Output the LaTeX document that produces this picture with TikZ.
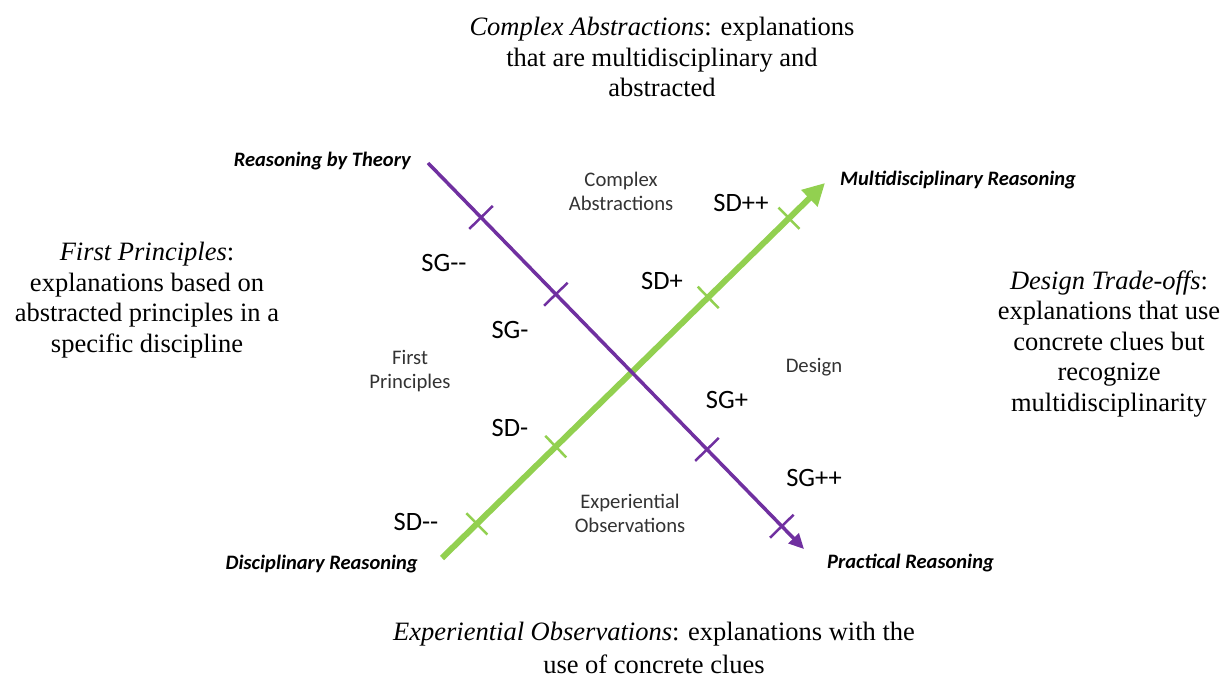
\documentclass[tikz,border=0pt]{standalone}
\usepackage{fontspec}
\setmainfont{Liberation Serif}
\newfontfamily\calibri{Carlito}
\usetikzlibrary{arrows.meta, positioning, calc}
\definecolor{theorypurple}{HTML}{7030A0}
\definecolor{designgreen}{HTML}{92D050}

\begin{document}
\begin{tikzpicture}[x=1pt, y=-1pt,
  pole/.style={font=\calibri\bfseries\itshape\fontsize{20.5}{24}\selectfont, inner sep=0pt},
  level/.style={font=\calibri\fontsize{26.5}{30}\selectfont, inner sep=0pt},
  zone/.style={font=\calibri\fontsize{20.7}{24}\selectfont, align=center, inner sep=0pt, text=black!80},
  note/.style={font=\fontsize{26.5}{30.5}\selectfont, align=center, inner sep=0pt},
  sgaxis/.style={draw=theorypurple, line width=3.5pt, -{Triangle[length=15pt,width=14pt]}},
  sdaxis/.style={draw=designgreen, line width=6pt, -{Triangle[length=22pt,width=22pt]}},
  sgtick/.style={draw=theorypurple, line width=2.5pt},
  sdtick/.style={draw=designgreen, line width=2.5pt}
]
  \useasboundingbox (0,0) rectangle (1225,679);

  % axis ends
  \coordinate (theory) at (428,163);
  \coordinate (practical) at (804,549);
  \coordinate (disc) at (442,558);
  \coordinate (multi) at (825,183);

  % green axis first, purple on top
  \draw[sdaxis] (disc) -- (multi);
  \draw[sgaxis] (theory) -- (practical);

  \foreach \t in {0.091,0.297,0.695,0.906}
    \draw[sdtick] ($(disc)!\t!(multi)!15pt!90:(multi)$) -- ($(disc)!\t!(multi)!15pt!-90:(multi)$);
  \foreach \t in {0.141,0.34,0.742,0.941}
    \draw[sgtick] ($(theory)!\t!(practical)!16.5pt!90:(practical)$) -- ($(theory)!\t!(practical)!16.5pt!-90:(practical)$);

  % pole labels
  \node[pole, left=17pt of theory, yshift=2pt] (theorylbl) {Reasoning by Theory};
  \node[pole, right=15pt of multi, yshift=3pt] (multilbl) {Multidisciplinary Reasoning};
  \node[pole, left=24pt of disc, yshift=-6pt] (disclbl) {Disciplinary Reasoning};
  \node[pole, right=23pt of practical, yshift=-14pt] (practicallbl) {Practical Reasoning};

  % levels
  \node[level] (sgmm) at (444,263) {SG--};
  \node[level] (sgm) at (510,330) {SG-};
  \node[level] (sgp) at (727,400) {SG+};
  \node[level] (sgpp) at (814,478) {SG++};
  \node[level] (sdpp) at (741,203) {SD++};
  \node[level] (sdp) at (662,281) {SD+};
  \node[level] (sdm) at (510,428) {SD-};
  \node[level] (sdmm) at (416,522) {SD--};

  % quadrants
  \node[zone] (complex) at (621,191) {Complex\\Abstractions};
  \node[zone] (first) at (410,371) {First\\Principles};
  \node[zone] (design) at (814,367) {Design};
  \node[zone] (experience) at (630,513) {Experiential\\Observations};

  % explanations
  \node[note] (complexnote) at (662,57) {\textit{Complex Abstractions}: explanations\\that are multidisciplinary and\\abstracted};
  \node[note] (firstnote) at (147,300) {\textit{First Principles}:\\explanations based on\\abstracted principles in a\\specific discipline};
  \node[note] (designnote) at (1109,344) {\textit{Design Trade-offs}:\\explanations that use\\concrete clues but\\recognize\\multidisciplinarity};
  \node[note] (experiencenote) at (654,648) {\textit{Experiential Observations}: explanations with the\\[2.5pt]use of concrete clues};
\end{tikzpicture}
\end{document}
